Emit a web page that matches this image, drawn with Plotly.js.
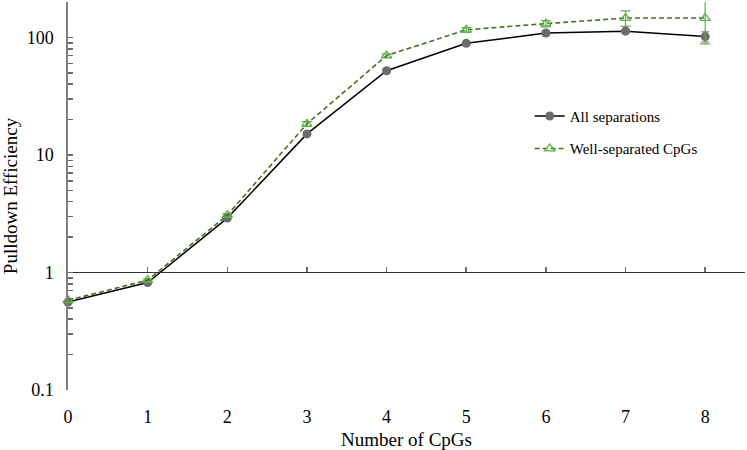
<!DOCTYPE html>
<html>
<head>
<meta charset="utf-8">
<script src="https://cdn.plot.ly/plotly-3.0.1.min.js"></script>
<style>html,body{margin:0;padding:0;background:#fff;}#chart{width:747px;height:450px;}</style>
</head>
<body>
<div id="chart"></div>
<script>
// Data
var cpgs = [0, 1, 2, 3, 4, 5, 6, 7, 8];
var allSep = [0.56, 0.82, 2.9, 15.1, 52, 89, 109, 113, 101.5];
var allSepErr = [0.01, 0.02, 0.1, 0.5, 1.5, 3, 4, 4, 10];
var wellSep = [0.58, 0.86, 3.07, 18.4, 70, 116, 131, 146, 146];
var wellSepErr = [0.01, 0.02, 0.1, 0.8, 2.5, 5, 8, 22, 58];
var seriesNames = ["All separations", "Well-separated CpGs"];

var serif = "Liberation Serif, Times New Roman, serif";

var traces = [
  {
    x: cpgs, y: allSep, name: seriesNames[0], type: "scatter", mode: "lines+markers",
    line: {color: "#000000", width: 1.5},
    marker: {symbol: "circle", size: 9, color: "#6b6b6b"},
    error_y: {type: "data", array: allSepErr, visible: true, color: "#6b6b6b", thickness: 1, width: 4},
    cliponaxis: false, legendgroup: "a"
  },
  {
    x: cpgs, y: wellSep, name: seriesNames[1], type: "scatter", mode: "lines+markers",
    line: {color: "#4a6e23", width: 1.6, dash: "5px,3px"},
    marker: {symbol: "triangle-up-open", size: 9, color: "#5fb04a", line: {width: 1.3, color: "#5fb04a"}},
    error_y: {type: "data", array: wellSepErr, visible: true, color: "#5fb04a", thickness: 1.2, width: 5},
    cliponaxis: false, legendgroup: "b"
  }
];

var yLow = Math.log10(0.1), yHigh = Math.log10(200);

var layout = {
  width: 747, height: 450,
  margin: {l: 68, r: 2, t: 2, b: 60},
  paper_bgcolor: "#ffffff", plot_bgcolor: "#ffffff",
  font: {family: serif, size: 18, color: "#000000"},
  showlegend: true,
  legend: {
    x: 0.682, y: 0.748, xanchor: "left", yanchor: "top",
    font: {family: serif, size: 15, color: "#000000"},
    bgcolor: "rgba(0,0,0,0)", traceorder: "grouped", tracegroupgap: 10,
    itemwidth: 30
  },
  xaxis: {
    range: [0, 8.5], dtick: 1, tick0: 0,
    anchor: "free", position: (0 - yLow) / (yHigh - yLow),
    showline: true, linecolor: "#333333", linewidth: 1,
    ticks: "inside", ticklen: 5, tickcolor: "#6a6a6a", tickwidth: 1.5,
    showgrid: false, zeroline: false,
    ticklabelstandoff: 128,
    tickfont: {family: serif, size: 18},
    title: {text: "Number of CpGs", font: {family: serif, size: 19}, standoff: 6}
  },
  yaxis: {
    type: "log", range: [yLow, yHigh], dtick: 1,
    showline: true, linecolor: "#808080", linewidth: 1.6,
    ticks: "inside", ticklen: 5, tickcolor: "#6a6a6a", tickwidth: 1.5,
    minor: {ticks: "inside", ticklen: 5, tickcolor: "#6a6a6a", tickwidth: 1.5, dtick: "D1", showgrid: false},
    showgrid: false, zeroline: false,
    ticklabelstandoff: 9,
    tickfont: {family: serif, size: 18},
    title: {text: "Pulldown Efficiency", font: {family: serif, size: 19}, standoff: 6}
  }
};

Plotly.newPlot("chart", traces, layout, {displayModeBar: false, staticPlot: true});
</script>
</body>
</html>
